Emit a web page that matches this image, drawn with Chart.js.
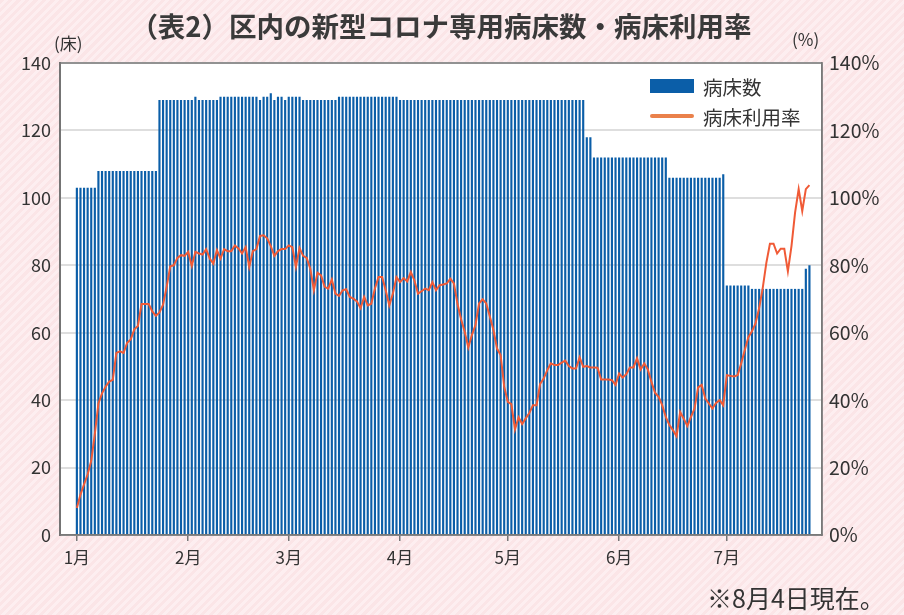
<!DOCTYPE html>
<html>
<head>
<meta charset="utf-8">
<script src="https://cdn.jsdelivr.net/npm/chart.js@4/dist/chart.umd.min.js"></script>
<style>
  body { margin: 0; }
  #wrap {
    position: relative; width: 904px; height: 615px; overflow: hidden;
    background: repeating-linear-gradient(135deg, #fbe5e7 0px, #fbe5e7 3px, #fdeef0 3px, #fdeef0 6px);
    font-family: 'Noto Sans CJK JP', sans-serif; color: #333;
  }
  #chart { position: absolute; left: 0; top: 0; }
  .txt { position: absolute; white-space: nowrap; }
  #title { left: 0; width: 882px; top: 5px; text-align: center; font-size: 27.5px; font-weight: bold; color: #3a3a3a; }
  .unit { font-size: 17px; }
  .leg { font-size: 19.5px; }
  .swatch { position: absolute; }
</style>
</head>
<body>
<div id="wrap">
  <canvas id="chart" width="904" height="615"></canvas>
  <div class="txt" id="title">（表2）区内の新型コロナ専用病床数・病床利用率</div>
  <div class="txt unit" style="left:54px;top:30px">(床)</div>
  <div class="txt unit" style="left:792px;top:26px">(%)</div>
  <div class="swatch" style="left:650px;top:79px;width:44px;height:14px;background:#0b5ea8"></div>
  <div class="txt leg" style="left:703px;top:72px">病床数</div>
  <div class="swatch" style="left:650px;top:114px;width:44px;height:4px;border-radius:2px;background:#ea814b"></div>
  <div class="txt leg" style="left:703px;top:102px">病床利用率</div>
  <div class="txt" style="left:707px;top:579px;font-size:25px">※8月4日現在。</div>
</div>
<script>
// day index 0 = 1/1
const monthStarts = [0, 31, 59, 90, 120, 151, 181];
const monthLabels = ['1月', '2月', '3月', '4月', '5月', '6月', '7月'];

// 病床数 (床), one value per day
const beds = [
  // 1月
  103, 103, 103, 103, 103, 103, 108, 108, 108, 108, 108, 108, 108, 108, 108, 108,
  108, 108, 108, 108, 108, 108, 108, 129, 129, 129, 129, 129, 129, 129, 129,
  // 2月
  129, 129, 130, 129, 129, 129, 129, 129, 129, 130, 130, 130, 130, 130, 130, 130,
  130, 130, 130, 130, 129, 130, 130, 131, 129, 130, 130, 129,
  // 3月
  130, 130, 130, 130, 129, 129, 129, 129, 129, 129, 129, 129, 129, 129, 130, 130,
  130, 130, 130, 130, 130, 130, 130, 130, 130, 130, 130, 130, 130, 130, 130,
  // 4月
  129, 129, 129, 129, 129, 129, 129, 129, 129, 129, 129, 129, 129, 129, 129, 129,
  129, 129, 129, 129, 129, 129, 129, 129, 129, 129, 129, 129, 129, 129,
  // 5月
  129, 129, 129, 129, 129, 129, 129, 129, 129, 129, 129, 129, 129, 129, 129, 129,
  129, 129, 129, 129, 129, 129, 118, 118, 112, 112, 112, 112, 112, 112, 112,
  // 6月
  112, 112, 112, 112, 112, 112, 112, 112, 112, 112, 112, 112, 112, 112, 106, 106,
  106, 106, 106, 106, 106, 106, 106, 106, 106, 106, 106, 106, 106, 107,
  // 7月
  74, 74, 74, 74, 74, 74, 74, 73, 73, 73, 73, 73, 73, 73, 73, 73,
  73, 73, 73, 73, 73, 73, 79, 80
];

// 病床利用率 (%), one value per day
const usage = [
  // 1月
  8, 12, 15, 18, 22, 30, 39, 42, 44, 45.5, 46, 54, 54.5, 54, 57, 58,
  61, 62, 68.5, 68.5, 68.5, 66.3, 65, 66, 68.3, 73.6, 79.7, 80, 82.2, 83, 82.8,
  // 2月
  84, 79.8, 84, 83.5, 83.2, 84.8, 82, 80.5, 84.5, 82, 84.8, 84.2, 84.2, 85.9, 85, 83.5,
  85.4, 79.5, 84.2, 84.8, 88.7, 88.9, 88, 85.7, 82.8, 84.2, 84.8, 84.8,
  // 3月
  85.9, 85.4, 79.5, 85.1, 82.8, 82.2, 79, 72.6, 77.8, 77, 73.6, 73.1, 75.8, 71.6, 70.9, 72.6,
  72.9, 70.6, 70.1, 69.3, 67.3, 70.6, 68.1, 68.6, 73.1, 76.5, 76.5, 72.6, 68.1, 71.6, 76.5,
  // 4月
  75, 76.2, 75.2, 78, 75.5, 71.6, 72.3, 73.1, 72.6, 75, 72.6, 74.1, 74.3, 74.6, 76, 74.6,
  68.5, 64, 60.3, 55.6, 59.3, 62.3, 68.7, 69.9, 68.7, 64.8, 60.8, 55.3, 53.4, 44,
  // 5月
  39.5, 38.8, 31.3, 34.9, 32.9, 34.6, 36.2, 38.5, 38.5, 44.8, 46.4, 48.9, 50.9, 50.4, 50.4, 51.1,
  51.7, 50.1, 49.4, 49.4, 52.7, 49.9, 50.1, 49.7, 49.7, 49.6, 46.1, 46.1, 46.1, 45.9, 44.5,
  // 6月
  47.9, 46.7, 47.7, 49.7, 49.7, 52.4, 49.1, 50.9, 49.1, 45.4, 42.2, 41, 38.5, 35, 32.6, 31.1,
  29.3, 36.5, 34.5, 32.3, 35, 37.5, 43.8, 44.5, 40.5, 39, 37.5, 39.2, 40, 38.5,
  // 7月
  47.4, 47.2, 47, 47.4, 50.9, 54.9, 58.7, 60.4, 62.8, 67.3, 73.3, 80.7, 86.4, 86.4, 83.5, 84.9,
  84.9, 78.2, 85.7, 95.6, 102.6, 96.1, 102.6, 103.8
];

const days = beds.map((v, i) => i);

const font = { family: "'Noto Sans CJK JP', sans-serif", size: 18 };

const plotFrame = {
  id: 'plotFrame',
  beforeDraw(chart) {
    const { ctx, chartArea: a } = chart;
    ctx.save();
    ctx.fillStyle = '#ffffff';
    ctx.fillRect(a.left, a.top, a.width, a.height);
    ctx.restore();
  },
  afterDraw(chart) {
    const { ctx, chartArea: a } = chart;
    ctx.save();
    ctx.strokeStyle = '#7a7a7a';
    ctx.lineWidth = 1.5;
    ctx.strokeRect(a.left, a.top, a.width, a.height);
    ctx.restore();
  }
};

new Chart(document.getElementById('chart'), {
  type: 'bar',
  data: {
    labels: days,
    datasets: [
      {
        type: 'line',
        label: '病床利用率',
        data: usage,
        yAxisID: 'y2',
        borderColor: '#f05a36',
        borderWidth: 2,
        pointRadius: 0,
        tension: 0,
        order: 0
      },
      {
        label: '病床数',
        data: beds,
        yAxisID: 'y',
        backgroundColor: '#0b5ea8',
        barPercentage: 0.6,
        categoryPercentage: 1,
        order: 1
      }
    ]
  },
  options: {
    responsive: false,
    devicePixelRatio: 1,
    animation: false,
    layout: { padding: { top: 63, left: 0, right: 0, bottom: 0 } },
    plugins: {
      legend: { display: false },
      tooltip: { enabled: false }
    },
    scales: {
      x: {
        type: 'linear',
        min: -4.7,
        max: 207.5,
        offset: false,
        afterBuildTicks: (s) => { s.ticks = monthStarts.map(v => ({ value: v })); },
        afterFit: (s) => { s.height = 80; },
        ticks: {
          autoSkip: false,
          maxRotation: 0,
          padding: 6,
          color: '#333',
          font: { family: font.family, size: 17 },
          callback: (v, i) => monthLabels[i]
        },
        grid: { drawOnChartArea: false, offset: false, tickLength: 6, color: '#777', lineWidth: 1.5 },
        border: { color: '#777', width: 1.5 }
      },
      y: {
        position: 'left',
        min: 0,
        max: 140,
        afterFit: (s) => { s.width = 60; },
        ticks: { stepSize: 20, padding: 9, color: '#333', font: font },
        grid: { color: '#dedede', lineWidth: 2, drawTicks: false },
        border: { color: '#666', width: 2 }
      },
      y2: {
        position: 'right',
        min: 0,
        max: 140,
        afterFit: (s) => { s.width = 82; },
        ticks: { stepSize: 20, padding: 7, color: '#333', font: { family: font.family, size: 19.5 }, callback: (v) => v + '%' },
        grid: { drawOnChartArea: false, drawTicks: false },
        border: { color: '#7a7a7a', width: 1.5 }
      }
    }
  },
  plugins: [plotFrame]
});
</script>
</body>
</html>
